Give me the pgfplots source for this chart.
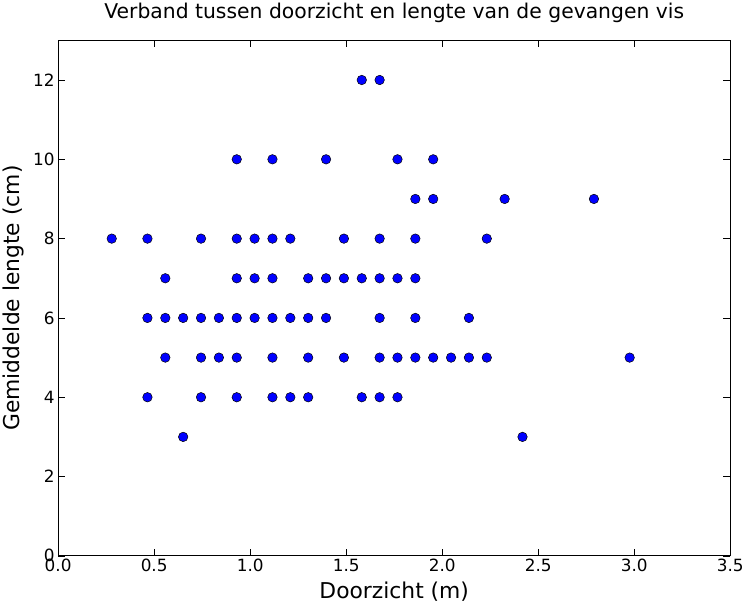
\documentclass[border=0pt]{standalone}
\usepackage{pgfplots}
\pgfplotsset{compat=1.18}
\usepackage{fontspec}
\setmainfont{DejaVu Sans}
\begin{document}
\begin{tikzpicture}
\begin{axis}[
  scale only axis,
  width=678pt, height=520pt,
  xmin=0, xmax=3.5, ymin=0, ymax=13,
  xtick={0,0.5,...,3.5},
  ytick={0,2,...,12},
  /pgf/number format/assume math mode=true,
  xticklabel style={/pgf/number format/.cd, fixed, fixed zerofill, precision=1},
  yticklabel style={/pgf/number format/.cd, fixed, precision=0},
  ticklabel style={font=\fontsize{17}{20}\selectfont},
  tick align=inside,
  major tick length=7pt,
  tick style={black, line width=0.6pt},
  axis line style={black, line width=1pt},
  xlabel={Doorzicht (m)},
  ylabel={Gemiddelde lengte (cm)},
  label style={font=\fontsize{22}{26}\selectfont},
  xlabel style={yshift=-3pt},
  ylabel style={yshift=2pt},
  title={Verband tussen doorzicht en lengte van de gevangen vis},
  title style={font=\fontsize{20.5}{24}\selectfont, yshift=8pt},
]
\addplot[only marks, mark=*, mark size=4.8pt, mark options={fill=blue, draw=black, line width=0.5pt}] table {
x y
1.581 12
1.674 12
0.930 10
1.116 10
1.395 10
1.767 10
1.953 10
1.860 9
1.953 9
2.325 9
2.790 9
0.279 8
0.465 8
0.744 8
0.930 8
1.023 8
1.116 8
1.209 8
1.488 8
1.674 8
1.860 8
2.232 8
0.558 7
0.930 7
1.023 7
1.116 7
1.302 7
1.395 7
1.488 7
1.581 7
1.674 7
1.767 7
1.860 7
0.465 6
0.558 6
0.651 6
0.744 6
0.837 6
0.930 6
1.023 6
1.116 6
1.209 6
1.302 6
1.395 6
1.674 6
1.860 6
2.139 6
0.558 5
0.744 5
0.837 5
0.930 5
1.116 5
1.302 5
1.488 5
1.674 5
1.767 5
1.860 5
1.953 5
2.046 5
2.139 5
2.232 5
2.976 5
0.465 4
0.744 4
0.930 4
1.116 4
1.209 4
1.302 4
1.581 4
1.674 4
1.767 4
0.651 3
2.418 3
};
\end{axis}
\end{tikzpicture}
\end{document}
